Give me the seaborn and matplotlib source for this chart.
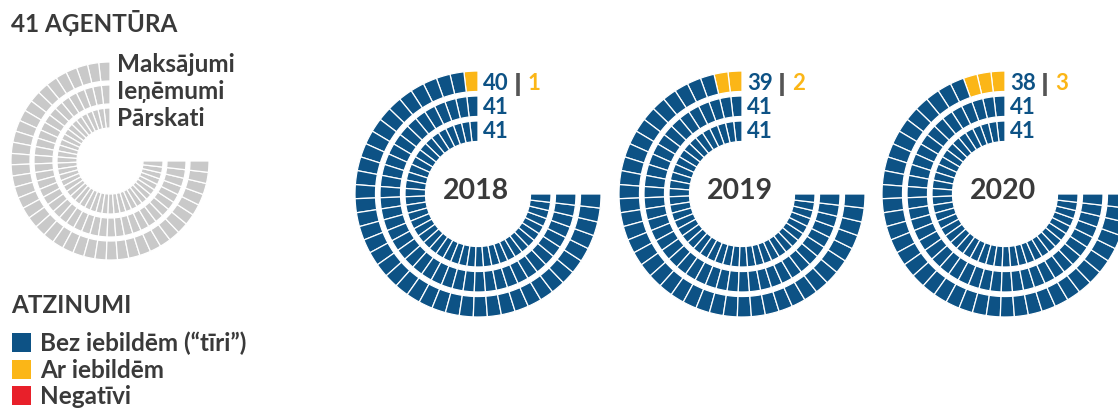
import numpy as np
import matplotlib
matplotlib.use("Agg")
import matplotlib.pyplot as plt
import seaborn as sns

# ---- data ----
n_agencies = 41
years = ["2018", "2019", "2020"]
ring_names = ["Maksājumi", "Ieņēmumi", "Pārskati"]   # outer -> inner
clean_maksajumi = [40, 39, 38]
qualified_maksajumi = [1, 2, 3]
clean_ienemumi = [41, 41, 41]
qualified_ienemumi = [0, 0, 0]
clean_parskati = [41, 41, 41]
qualified_parskati = [0, 0, 0]
legend_labels = ["Bez iebildēm (“tīri”)", "Ar iebildēm", "Negatīvi"]
title_text = "41 AĢENTŪRA"
legend_title = "ATZINUMI"

sns.set_theme(style="white")
FONT = ["Lato", "DejaVu Sans"]
plt.rcParams["font.family"] = FONT

BLUE = "#0d5285"
YELLOW = "#fbb617"
RED = "#e8202a"
GRAY = "#c9c9c9"
TXT = "#3a3a3a"
palette = sns.color_palette([BLUE, YELLOW, RED])

W, H = 1118, 408
fig = plt.figure(figsize=(W / 100, H / 100), dpi=100)


def polar_ax(cx, cy, R):
    ax = fig.add_axes([(cx - R) / W, (H - cy - R) / H, 2 * R / W, 2 * R / H],
                      projection="polar")
    ax.set_ylim(0, R)
    ax.set_axis_off()
    return ax


def draw_ring(ax, r_in, r_out, colors):
    n = len(colors)
    step = 270.0 / n
    theta = np.deg2rad(90 + step * (np.arange(n) + 0.5))
    ax.bar(theta, r_out - r_in, width=np.deg2rad(step), bottom=r_in,
           color=colors, edgecolor="white", linewidth=0.9, align="center")


# ---- legend donut (gray) ----
R_leg = 104
axl = polar_ax(110, 161, R_leg)
for (ri, ro) in [(80, 99), (57, 76), (33, 53)]:
    draw_ring(axl, ri, ro, [GRAY] * n_agencies)

# ---- yearly donuts ----
centers = [478, 742, 1005]
cy = 194
rings_px = [(102.5, 123), (77.5, 98), (52.5, 73)]
clean_all = [clean_maksajumi, clean_ienemumi, clean_parskati]
qual_all = [qualified_maksajumi, qualified_ienemumi, qualified_parskati]

for k, cx in enumerate(centers):
    ax = polar_ax(cx, cy, 128)
    for j, (ri, ro) in enumerate(rings_px):
        nq = qual_all[j][k]
        nc = clean_all[j][k]
        colors = [palette[1]] * nq + [palette[0]] * nc
        draw_ring(ax, ri, ro, colors)

# ---- text overlay ----
ov = fig.add_axes([0, 0, 1, 1], zorder=10)
ov.set_xlim(0, W)
ov.set_ylim(H, 0)
ov.set_axis_off()
ov.patch.set_alpha(0)

fs_small = 17.5
ov.text(11, 32, title_text, fontsize=fs_small, fontweight="bold", color=TXT,
        ha="left", va="baseline")
for i, name in enumerate(ring_names):
    ov.text(117, 72 + 27 * i, name, fontsize=fs_small, fontweight="bold",
            color=TXT, ha="left", va="baseline")

ov.text(11, 313, legend_title, fontsize=fs_small, fontweight="bold", color=TXT,
        ha="left", va="baseline")
for i, (lab, col) in enumerate(zip(legend_labels, palette)):
    y0 = 333 + 26.5 * i
    ov.add_patch(plt.Rectangle((12, y0), 19, 19, color=col, lw=0))
    ov.text(40, y0 + 18, lab, fontsize=fs_small, fontweight="bold", color=TXT,
            ha="left", va="baseline")

for k, cx in enumerate(centers):
    ov.text(cx - 2, 199, years[k], fontsize=20.5, fontweight="bold", color=TXT,
            ha="center", va="baseline")
    for j in range(3):
        base = 90 + 24 * j
        x0 = cx + 5
        ov.text(x0, base, str(clean_all[j][k]), fontsize=16, fontweight="bold",
                color=BLUE, ha="left", va="baseline")
        if qual_all[j][k] > 0:
            ov.plot([x0 + 35, x0 + 35], [base - 17, base + 6], color="#555555",
                    lw=2.6, solid_capstyle="butt")
            ov.text(x0 + 45, base, str(qual_all[j][k]), fontsize=16,
                    fontweight="bold", color=YELLOW, ha="left", va="baseline")

fig.savefig("out.png", dpi=100, facecolor="white")
